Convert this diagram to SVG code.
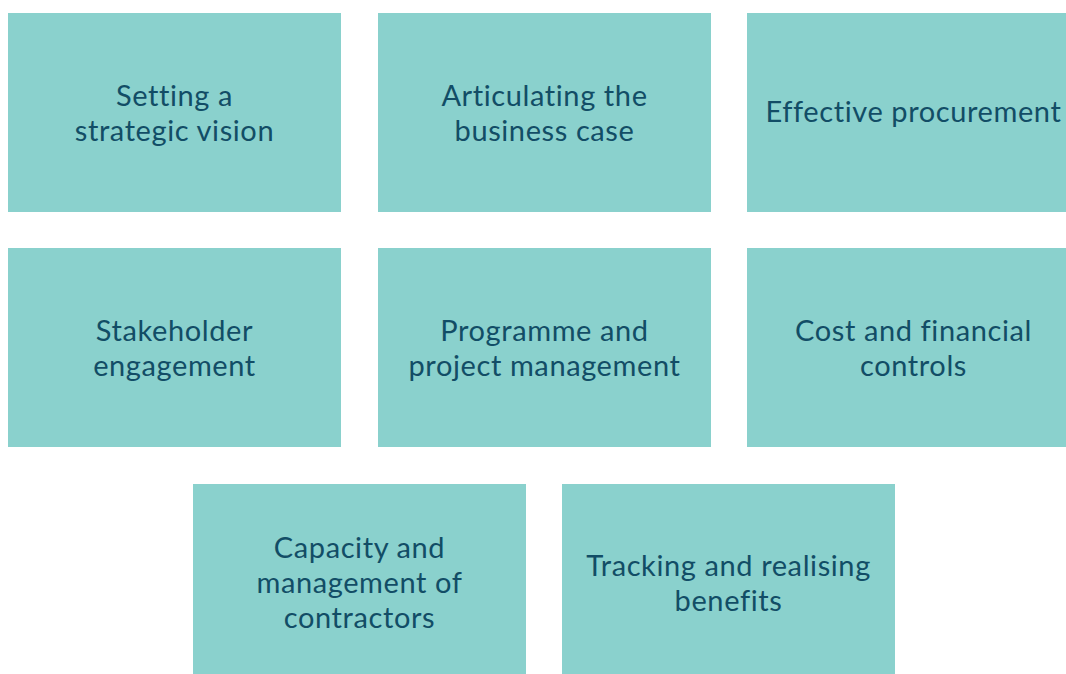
<svg xmlns="http://www.w3.org/2000/svg" width="1066" height="674" viewBox="0 0 1066 674">
  <style>
    .box { fill: #8ad1cd; }
    .lbl { font-family: Lato, "Open Sans", sans-serif; font-size: 29px; letter-spacing: 0.6px; fill: #124d66; text-anchor: middle; }
  </style>
  <rect width="1066" height="674" fill="#ffffff"/>
  <g id="n1">
    <rect class="box" x="8" y="13" width="333" height="199"/>
    <text class="lbl" x="174.5" y="106">Setting a</text>
    <text class="lbl" x="174.5" y="141">strategic vision</text>
  </g>
  <g id="n2">
    <rect class="box" x="378" y="13" width="333" height="199"/>
    <text class="lbl" x="544.5" y="106">Articulating the</text>
    <text class="lbl" x="544.5" y="141">business case</text>
  </g>
  <g id="n3">
    <rect class="box" x="747" y="13" width="333" height="199"/>
    <text class="lbl" x="913.5" y="122">Effective procurement</text>
  </g>
  <g id="n4">
    <rect class="box" x="8" y="248" width="333" height="199"/>
    <text class="lbl" x="174.5" y="341">Stakeholder</text>
    <text class="lbl" x="174.5" y="376">engagement</text>
  </g>
  <g id="n5">
    <rect class="box" x="378" y="248" width="333" height="199"/>
    <text class="lbl" x="544.5" y="341">Programme and</text>
    <text class="lbl" x="544.5" y="376">project management</text>
  </g>
  <g id="n6">
    <rect class="box" x="747" y="248" width="333" height="199"/>
    <text class="lbl" x="913.5" y="341">Cost and financial</text>
    <text class="lbl" x="913.5" y="376">controls</text>
  </g>
  <g id="n7">
    <rect class="box" x="193" y="484" width="333" height="199"/>
    <text class="lbl" x="359.5" y="558">Capacity and</text>
    <text class="lbl" x="359.5" y="593">management of</text>
    <text class="lbl" x="359.5" y="628">contractors</text>
  </g>
  <g id="n8">
    <rect class="box" x="562" y="484" width="333" height="199"/>
    <text class="lbl" x="728.5" y="576">Tracking and realising</text>
    <text class="lbl" x="728.5" y="611">benefits</text>
  </g>
  <g id="connectors"/>
</svg>
